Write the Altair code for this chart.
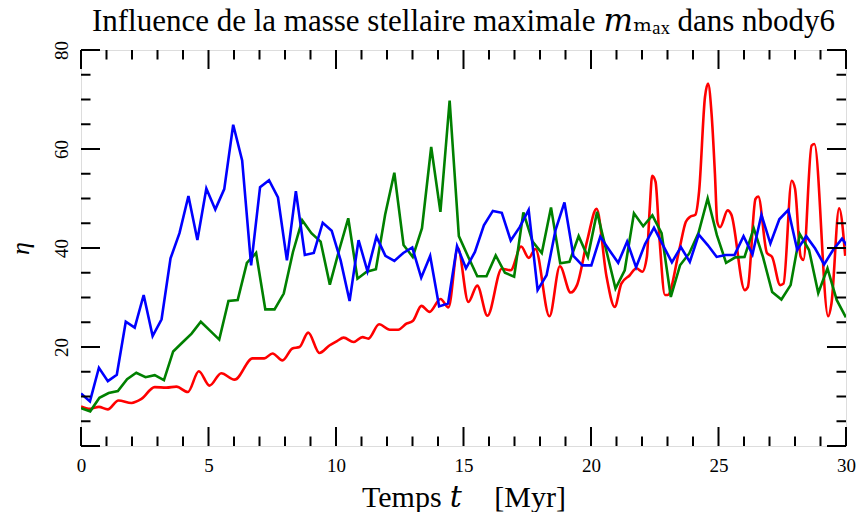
import altair as alt
import numpy as np
import pandas as pd

# ---------------- data ----------------
blue_dt = 0.3511
blue_eta = [10.6, 9.0, 15.8, 13.1, 14.4, 25.1, 23.9, 30.5, 22.2, 25.6,
            37.9, 43.0, 50.5, 41.6, 52.0, 47.8, 51.9, 64.9, 57.7, 36.5,
            52.3, 53.7, 50.2, 37.5, 51.5, 38.6, 39.0, 45.1, 43.5, 37.5,
            29.3, 41.6, 35.3, 42.3, 38.4, 37.4, 39.0, 40.1, 34.0, 38.4,
            28.2, 28.8, 40.4, 35.9, 39.2, 44.6, 47.5, 47.1, 41.5, 44.2,
            47.7, 31.5, 34.5, 43.6, 49.2, 38.4, 36.5, 36.5, 42.3, 39.6,
            37.0, 41.3, 36.1, 40.8, 44.1, 40.6, 37.1, 40.2, 37.2, 42.7,
            40.6, 38.2, 38.6, 38.6, 42.4, 38.7, 46.7, 40.9, 45.8, 47.7,
            39.6, 42.4, 39.9, 36.7, 39.6, 41.9, 39.3]

green_dt = 0.3614
green_eta = [7.65, 7.0, 9.75, 10.7, 11.1, 13.5, 14.8, 13.9, 14.3, 13.3,
             19.1, 20.9, 22.7, 25.1, 23.3, 21.5, 29.3, 29.5, 37.0, 39.0,
             27.6, 27.6, 30.8, 39.2, 45.6, 43.0, 41.3, 32.6, 39.5, 46.0,
             33.8, 35.2, 35.7, 46.7, 55.2, 40.6, 38.2, 44.0, 60.4, 47.3,
             69.8, 42.4, 38.3, 34.3, 34.3, 38.5, 35.0, 34.2, 47.2, 41.3,
             39.0, 48.2, 36.9, 37.2, 42.4, 38.2, 47.3, 39.5, 31.8, 35.5,
             47.0, 44.4, 46.6, 43.0, 30.1, 36.5, 38.9, 43.0, 50.0, 42.6,
             37.0, 38.1, 38.2, 44.0, 38.2, 31.1, 29.6, 32.5, 42.8, 39.6,
             30.9, 35.9, 29.5, 26.0]

red_t = [0.0, 0.35, 0.7, 1.05, 1.47, 1.98, 2.37, 2.89, 3.35, 3.74,
         4.19, 4.62, 5.04, 5.5, 6.02, 6.73, 7.19, 7.51, 7.9, 8.29,
         8.57, 8.91, 9.35, 9.74, 10.04, 10.3, 10.69, 11.04, 11.27, 11.69,
         12.11, 12.44, 12.76, 13.02, 13.35, 13.67, 14.1, 14.41, 14.78, 15.19,
         15.54, 15.94, 16.5, 16.85, 17.26, 17.56, 17.82, 18.37, 18.78, 19.2,
         19.45, 19.85, 20.22, 20.61, 20.93, 21.19, 21.52, 21.78, 22.01, 22.19,
         22.3, 22.4, 22.53, 22.68, 22.9, 23.01, 23.46, 23.72, 23.89, 24.09,
         24.24, 24.47, 24.59, 24.73, 24.86, 24.95, 25.06, 25.36, 25.5, 26.03,
         26.15, 26.45, 26.56, 26.9, 27.1, 27.42, 27.55, 27.87, 28.0, 28.22,
         28.33, 28.65, 28.76, 29.3, 29.43, 29.73, 29.97]
red_eta = [8.0, 7.5, 7.9, 7.4, 9.2, 8.7, 9.5, 11.9, 11.8, 12.0,
           10.9, 15.1, 12.2, 14.7, 13.4, 17.7, 17.7, 18.7, 17.3, 19.7,
           20.0, 22.9, 18.8, 20.3, 21.2, 21.9, 21.0, 22.0, 21.7, 24.6,
           23.5, 23.5, 24.7, 25.3, 28.3, 27.1, 29.7, 28.0, 40.0, 29.1,
           32.4, 26.3, 35.8, 35.5, 40.3, 38.0, 39.8, 26.2, 36.3, 31.0,
           32.5, 41.5, 47.9, 34.2, 28.1, 32.8, 34.5, 35.9, 35.2, 38.2,
           47.7, 54.6, 53.4, 42.3, 30.5, 30.5, 39.6, 45.3, 46.3, 46.7,
           51.5, 70.5, 73.2, 67.0, 55.0, 45.3, 44.2, 47.6, 46.8, 31.5,
           32.1, 49.9, 50.4, 39.0, 38.2, 32.5, 32.8, 53.6, 52.0, 38.3,
           37.6, 60.7, 61.0, 26.2, 28.8, 48.0, 38.4]

x_major = [0, 5, 10, 15, 20, 25, 30]
x_minor = [v for v in range(0, 31) if v % 5 != 0]
y_major = [0, 20, 40, 60, 80]
y_minor = [v for v in range(0, 81, 5) if v % 20 != 0]
y_labels = [20, 40, 60, 80]

title_text = "Influence de la masse stellaire maximale 𝑚ₘₐₓ dans nbody6"
x_title = "Temps 𝑡\u2003[Myr]"
y_title = "η"

# ---------------- layout / style ----------------
W, H = 765, 396
MAJ, MIN = 19, 9.5
FONT = "Liberation Serif, DejaVu Math TeX Gyre, DejaVu Serif, serif"

blue_df = pd.DataFrame({"t": np.arange(len(blue_eta)) * blue_dt, "eta": blue_eta})
green_df = pd.DataFrame({"t": np.arange(len(green_eta)) * green_dt, "eta": green_eta})
red_df = pd.DataFrame({"t": red_t, "eta": red_eta})

xscale = alt.Scale(domain=[0, 30], nice=False, zero=False)
yscale = alt.Scale(domain=[0, 80], nice=False, zero=False)

x_axis = alt.Axis(values=x_major, ticks=False, domain=False, grid=False,
                  labelFont=FONT, labelFontSize=19, labelColor="black",
                  labelPadding=10, title=x_title, titleFont=FONT,
                  titleFontSize=30, titleFontWeight="normal", titleColor="black",
                  titlePadding=7, labelFlush=False)
y_axis = alt.Axis(values=y_labels, ticks=False, domain=False, grid=False,
                  labelFont=FONT, labelFontSize=19, labelColor="black",
                  labelAngle=270, labelPadding=10, title=y_title, titleFont=FONT,
                  titleFontSize=26, titleFontWeight="normal", titleFontStyle="italic",
                  titleColor="black", titlePadding=19, labelFlush=False)


def line(df, color, interp=None):
    kw = {"color": color, "strokeWidth": 2.6, "clip": True}
    if interp:
        kw["interpolate"] = interp
    return alt.Chart(df).mark_line(**kw).encode(
        x=alt.X("t:Q", scale=xscale, axis=x_axis),
        y=alt.Y("eta:Q", scale=yscale, axis=y_axis),
    )


def xticks(vals, length, top):
    df = pd.DataFrame({"v": vals})
    if top:
        y, y2 = alt.value(0), alt.value(length)
    else:
        y, y2 = alt.value(H), alt.value(H - length)
    return alt.Chart(df).mark_rule(color="black", strokeWidth=2).encode(
        x=alt.X("v:Q", scale=xscale, axis=x_axis), y=y, y2=y2)


def yticks(vals, length, right):
    df = pd.DataFrame({"v": vals})
    if right:
        x, x2 = alt.value(W), alt.value(W - length)
    else:
        x, x2 = alt.value(0), alt.value(length)
    return alt.Chart(df).mark_rule(color="black", strokeWidth=2).encode(
        y=alt.Y("v:Q", scale=yscale, axis=y_axis), x=x, x2=x2)


layers = [
    line(red_df, "#ff0000", interp="monotone"),
    line(green_df, "#008000"),
    line(blue_df, "#0000ff"),
    xticks(x_major, MAJ, False), xticks(x_major, MAJ, True),
    xticks(x_minor, MIN, False), xticks(x_minor, MIN, True),
    yticks(y_major, MAJ, False), yticks(y_major, MAJ, True),
    yticks(y_minor, MIN, False), yticks(y_minor, MIN, True),
]

chart = alt.layer(*layers).properties(
    width=W, height=H,
    title=alt.TitleParams(title_text, font=FONT, fontSize=31, fontWeight="normal",
                          color="black", anchor="middle", offset=3, frame="group"),
    autosize=alt.AutoSizeParams(type="none"),
    padding={"left": 73, "top": 42, "right": 11, "bottom": 66},
).configure_view(
    stroke="black", strokeWidth=2.5, fill="#fdfdea"
).configure(background="white")

chart.save("out.html", embed_options={"renderer": "svg", "actions": False})
